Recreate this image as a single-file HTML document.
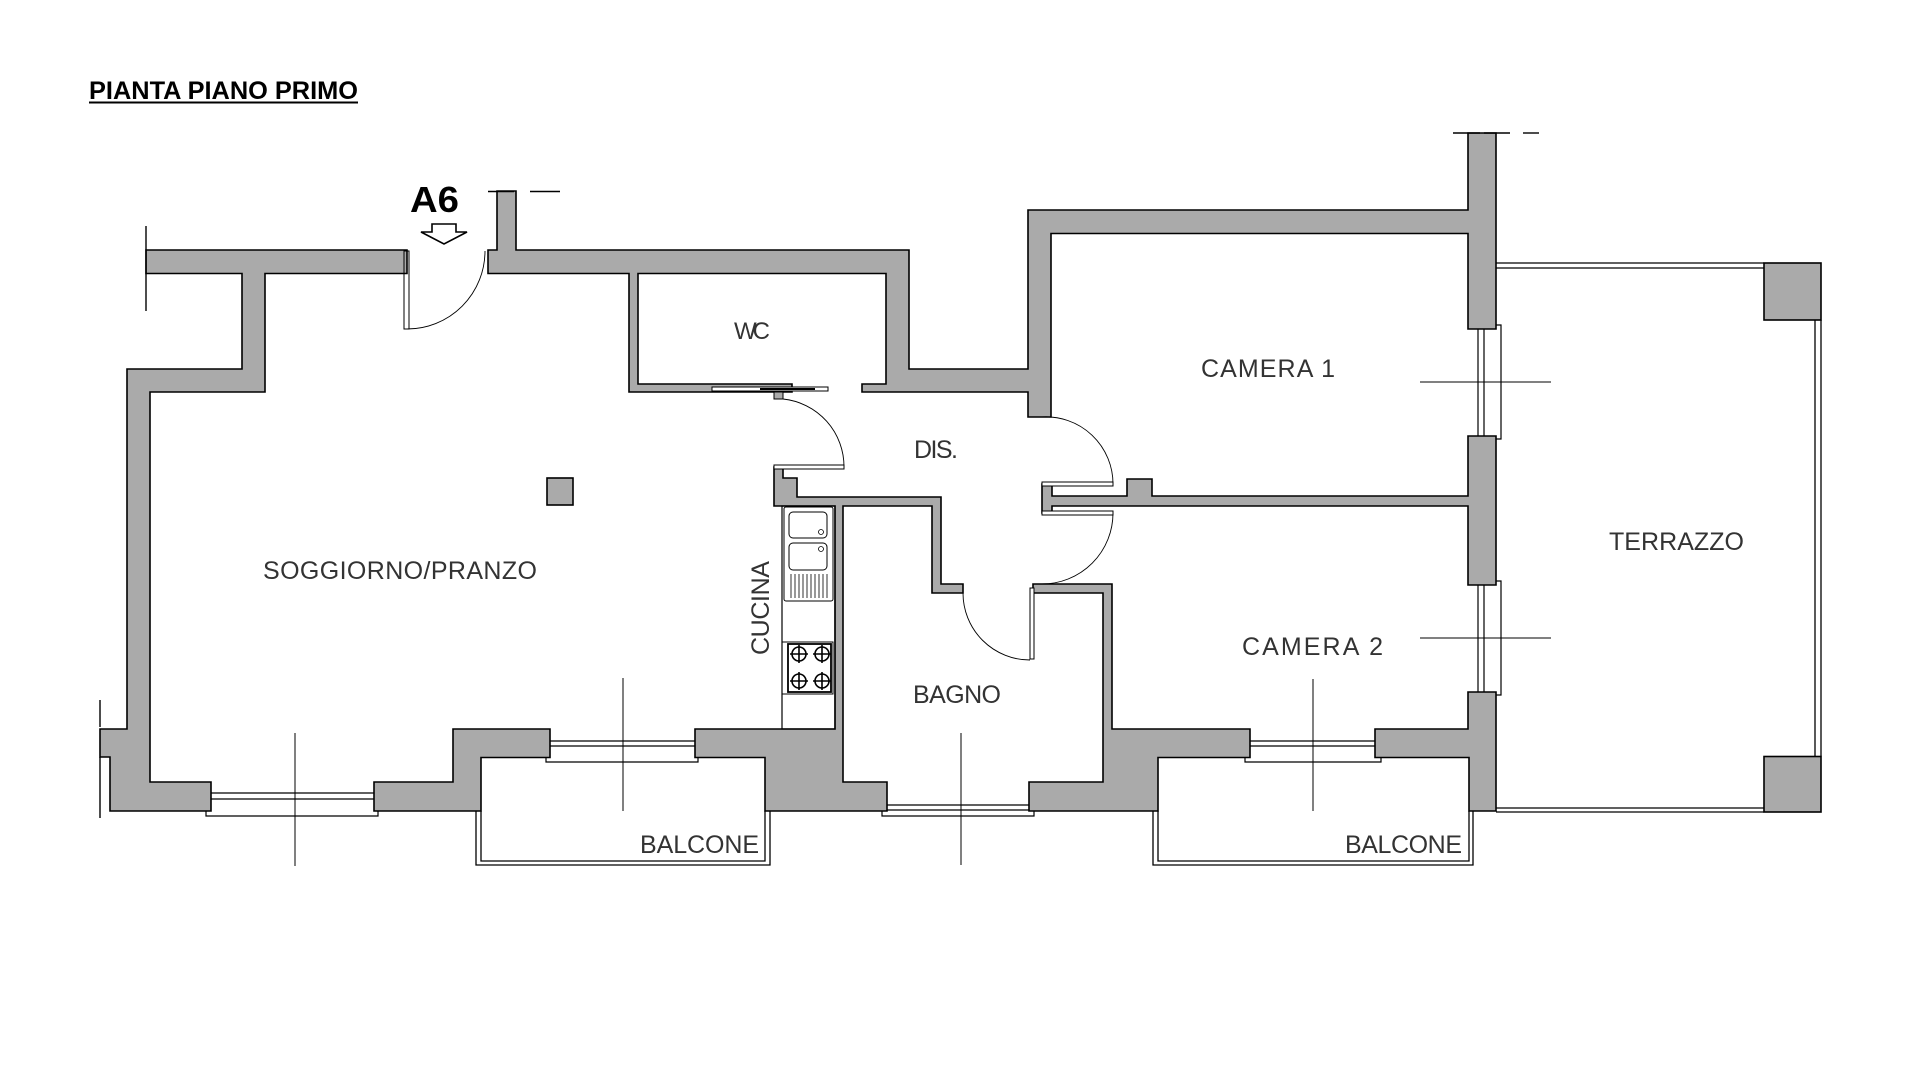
<!DOCTYPE html>
<html><head><meta charset="utf-8"><style>html,body{margin:0;padding:0;background:#fff}svg{display:block}</style></head>
<body>
<svg width="1920" height="1072" viewBox="0 0 1920 1072" xmlns="http://www.w3.org/2000/svg">
<g fill="#aaaaaa" stroke="#000" stroke-width="1.6" stroke-linejoin="miter">
<polygon points="146,250 407,250 407,273.5 265,273.5 265,392 150,392 150,782 211,782 211,811 110,811 110,757 100,757 100,729 127,729 127,369 242,369 242,273.5 146,273.5"/>
<polygon points="497,191 516,191 516,250 909,250 909,369 1028,369 1028,210 1468,210 1468,133 1496,133 1496,329 1468,329 1468,233.5 1051,233.5 1051,417 1028,417 1028,392 862,392 862,384 886,384 886,273.5 638,273.5 638,384 792,384 792,392 629,392 629,273.5 488,273.5 488,250 497,250"/>
<polygon points="774,467 783,467 783,478 797,478 797,497 941,497 941,584 963,584 963,593 932,593 932,506 843,506 843,782 887,782 887,811 765,811 765,757.5 695,757.5 695,729 835,729 835,506 774,506"/>
<polygon points="374,782 453,782 453,729 550,729 550,757.5 481,757.5 481,811 374,811"/>
<polygon points="1042,484 1052,484 1052,496 1127,496 1127,479 1152,479 1152,496 1468,496 1468,436 1496,436 1496,585 1468,585 1468,506 1052,506 1052,513 1042,513"/>
<polygon points="1033,584 1112,584 1112,729 1250,729 1250,757.5 1158,757.5 1158,811 1029,811 1029,782 1103,782 1103,593 1033,593"/>
<polygon points="1375,729 1468,729 1468,692 1496,692 1496,811 1469,811 1469,757.5 1375,757.5"/>
<rect x="547" y="478" width="26" height="27"/>
<rect x="1764" y="263" width="57" height="57"/>
<rect x="1764" y="756.5" width="57" height="55.5"/>
</g>
<g fill="none" stroke="#000" stroke-width="1.4">
<line x1="146" y1="226" x2="146" y2="311"/>
<line x1="488" y1="191.5" x2="514" y2="191.5"/><line x1="530" y1="191.5" x2="560" y2="191.5"/>
<line x1="1453" y1="133" x2="1480" y2="133"/><line x1="1484" y1="133" x2="1510" y2="133"/><line x1="1523" y1="133" x2="1539" y2="133"/>
<line x1="100" y1="700" x2="100" y2="727"/><line x1="100" y1="757" x2="100" y2="818"/>
<polygon points="432,224 456,224 456,232 467,232 444,244 421,232 432,232" stroke-width="1.6"/>
<rect x="404" y="251" width="5" height="78" stroke-width="1"/>
<path d="M407,329 A78,78 0 0 0 485,251" stroke-width="0.9"/>
<rect x="712" y="387" width="116" height="4" fill="#fff" stroke-width="1"/>
<line x1="760" y1="389" x2="815" y2="389" stroke-width="2"/>
<rect x="774" y="392" width="9" height="7" fill="#aaa" stroke-width="1"/>
<rect x="774" y="465" width="70" height="4" fill="#fff" stroke-width="1"/>
<path d="M783,399 A68,68 0 0 1 844,467" stroke-width="0.9"/>
<rect x="1042" y="482" width="71" height="4" fill="#fff" stroke-width="1"/>
<path d="M1042,417 A67,67 0 0 1 1113,484" stroke-width="0.9"/>
<rect x="1042" y="511" width="71" height="4" fill="#fff" stroke-width="1"/>
<path d="M1113,513 A71,71 0 0 1 1042,584" stroke-width="0.9"/>
<rect x="1030" y="588" width="4" height="71" fill="#fff" stroke-width="1"/>
<path d="M963,593 A67,67 0 0 0 1030,660" stroke-width="0.9"/>
<rect x="782" y="506" width="53" height="223" stroke-width="1.2"/>
<rect x="784" y="507" width="49" height="94" rx="2" stroke-width="1"/>
<rect x="789" y="512" width="38" height="26" rx="4" stroke-width="1"/>
<rect x="789" y="543" width="38" height="27" rx="4" stroke-width="1"/>
<circle cx="821" cy="532" r="2.5" stroke-width="0.8"/><circle cx="821" cy="549" r="2.5" stroke-width="0.8"/>
<path d="M791,574V598M795,574V598M799,574V598M803,574V598M807,574V598M811,574V598M815,574V598M819,574V598M823,574V598M827,574V598" stroke-width="0.8"/>
<rect x="782" y="642" width="51" height="52" stroke-width="1"/>
<rect x="788" y="644" width="43" height="48" stroke-width="1.8"/>
<g stroke-width="1.6"><circle cx="799" cy="654" r="7"/><circle cx="822" cy="654" r="7"/><circle cx="799" cy="681" r="7"/><circle cx="822" cy="681" r="7"/>
<path d="M790,654h18M799,645v18M813,654h18M822,645v18M790,681h18M799,672v18M813,681h18M822,672v18"/></g>
<g stroke-width="1.2">
<line x1="211" y1="793" x2="374" y2="793"/><line x1="211" y1="799" x2="374" y2="799"/><polyline points="206,811 206,816 378,816 378,811"/>
<line x1="550" y1="741" x2="695" y2="741"/><line x1="550" y1="746" x2="695" y2="746"/><polyline points="546,757.5 546,762 698,762 698,757.5"/>
<line x1="887" y1="805" x2="1029" y2="805"/><line x1="887" y1="810" x2="1029" y2="810"/><polyline points="882,811 882,816 1034,816 1034,811"/>
<line x1="1250" y1="741" x2="1375" y2="741"/><line x1="1250" y1="746" x2="1375" y2="746"/><polyline points="1245,757.5 1245,762 1381,762 1381,757.5"/>
<line x1="1478" y1="329" x2="1478" y2="436"/><line x1="1484" y1="329" x2="1484" y2="436"/><polyline points="1496,325 1501,325 1501,439 1496,439"/>
<line x1="1478" y1="585" x2="1478" y2="692"/><line x1="1484" y1="585" x2="1484" y2="692"/><polyline points="1496,581 1501,581 1501,695 1496,695"/>
</g>
<g stroke-width="1"><line x1="295" y1="733" x2="295" y2="866"/><line x1="623" y1="678" x2="623" y2="811"/><line x1="961" y1="733" x2="961" y2="865"/><line x1="1313" y1="679" x2="1313" y2="811"/>
<line x1="1420" y1="382" x2="1551" y2="382"/><line x1="1420" y1="638" x2="1551" y2="638"/></g>
<g stroke-width="1.3">
<polyline points="476,811 476,865 770,865 770,811"/><polyline points="481,811 481,861 765,861 765,811"/>
<polyline points="1153,811 1153,865 1473,865 1473,811"/><polyline points="1158,811 1158,861 1469,861 1469,811"/>
<line x1="1496" y1="263" x2="1764" y2="263"/><line x1="1496" y1="268" x2="1764" y2="268"/>
<line x1="1496" y1="808" x2="1764" y2="808"/><line x1="1496" y1="812" x2="1764" y2="812"/>
<line x1="1815" y1="320" x2="1815" y2="756.5"/><line x1="1821" y1="320" x2="1821" y2="756.5"/>
</g>
</g>
<text x="89" y="99" font-family="Liberation Sans Narrow, Liberation Sans, sans-serif" font-weight="bold" font-size="25" textLength="269" lengthAdjust="spacingAndGlyphs">PIANTA PIANO PRIMO</text>
<line x1="89" y1="102.5" x2="358" y2="102.5" stroke="#000" stroke-width="2"/>
<text x="410" y="212" font-family="Liberation Sans, sans-serif" font-weight="bold" font-size="36" textLength="49" lengthAdjust="spacingAndGlyphs">A6</text>
<g font-family="Liberation Sans Narrow, Liberation Sans, sans-serif" fill="#333" font-size="25" lengthAdjust="spacingAndGlyphs">
<text x="734" y="339" font-size="24" textLength="36">WC</text>
<text x="914" y="458" textLength="44">DIS.</text>
<text x="263" y="579" textLength="274">SOGGIORNO/PRANZO</text>
<text x="1201" y="377" textLength="134">CAMERA 1</text>
<text x="1242" y="655" textLength="141">CAMERA 2</text>
<text x="1609" y="550" textLength="135">TERRAZZO</text>
<text x="913" y="703" textLength="88">BAGNO</text>
<text x="640" y="853" textLength="119">BALCONE</text>
<text x="1345" y="853" textLength="117">BALCONE</text>
<text transform="translate(769,655) rotate(-90)" textLength="94">CUCINA</text>
</g>
</svg>
</body></html>
